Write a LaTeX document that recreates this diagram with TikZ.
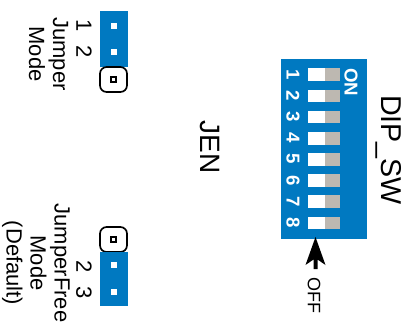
\documentclass[tikz,border=0pt]{standalone}
\usepackage{fontspec}
\setmainfont{Liberation Sans}
\definecolor{dipblue}{HTML}{0079C1}
\definecolor{dipgrey}{HTML}{BDB8B1}
\tikzset{
  board/.style={fill=dipblue,draw=none},
  leveron/.style={fill=white,draw=none},
  leveroff/.style={fill=dipgrey,draw=none},
  pinhole/.style={fill=white,draw=none},
  pinbox/.style={draw=black,line width=1.25pt,rounded corners=5pt,fill=white},
  pinmark/.style={draw=black,line width=1.4pt,fill=white},
  swnum/.style={rotate=-90,inner sep=0.75pt,text=white,font=\bfseries\fontsize{14}{16}\selectfont},
  bigtext/.style={rotate=-90,inner sep=0.75pt,align=center,font=\fontsize{16.5}{18}\selectfont},
  pinnum/.style={rotate=-90,inner sep=0.75pt,font=\fontsize{16.5}{18}\selectfont}
}
\begin{document}
\begin{tikzpicture}[x=0.75pt,y=0.75pt,yscale=-1,xscale=1]
\useasboundingbox (0,0) rectangle (415,326);

%Shape: DIP switch body
\fill [board] (280.5,58.5) rectangle (366.5,239);
%Switch 1
\fill [leveron] (308,68) rectangle (325,81);
\fill [leveroff] (325,68) rectangle (340,81);
%Switch 2
\fill [leveron] (308,89.5) rectangle (325,102);
\fill [leveroff] (325,89.5) rectangle (340,102);
%Switch 3
\fill [leveron] (308,110.5) rectangle (325,123);
\fill [leveroff] (325,110.5) rectangle (340,123);
%Switch 4
\fill [leveron] (308,131.5) rectangle (325,144.5);
\fill [leveroff] (325,131.5) rectangle (340,144.5);
%Switch 5
\fill [leveron] (308,153) rectangle (325,165.5);
\fill [leveroff] (325,153) rectangle (340,165.5);
%Switch 6
\fill [leveron] (308,174) rectangle (325,186.5);
\fill [leveroff] (325,174) rectangle (340,186.5);
%Switch 7
\fill [leveron] (308,195) rectangle (325,207.5);
\fill [leveroff] (325,195) rectangle (340,207.5);
%Switch 8
\fill [leveron] (308,216.5) rectangle (325,229);
\fill [leveroff] (325,216.5) rectangle (340,229);

%Shape: OFF arrow
\fill [black] (315.5,237) -- (325.5,265) -- (317.5,259.5) -- (317.5,269) -- (313.5,269) -- (313.5,259.5) -- (305.5,265) -- cycle;

%Shape: Jumper top
\fill [board] (99.5,11) rectangle (128,66.5);
\fill [pinhole] (111,23) rectangle (117,29);
\fill [pinhole] (111,49) rectangle (117,55);
\draw [pinbox] (100,67) rectangle (127,92);
\draw [pinmark] (111,77) rectangle (115.7,81.7);

%Shape: Jumper bottom
\draw [pinbox] (100,227) rectangle (127,252);
\draw [pinmark] (111,237) rectangle (115.7,241.7);
\fill [board] (99.5,252) rectangle (128,306);
\fill [pinhole] (111,262) rectangle (117,268);
\fill [pinhole] (111,289) rectangle (117,295);

% Text Node
\node (swone) [swnum] at (293,74.5) {1};
\node (swtwo) [swnum] at (293,95.5) {2};
\node (swthree) [swnum] at (293,116.5) {3};
\node (swfour) [swnum] at (293,138) {4};
\node (swfive) [swnum] at (293,159) {5};
\node (swsix) [swnum] at (293,180.5) {6};
\node (swseven) [swnum] at (293,201.5) {7};
\node (sweight) [swnum] at (293,222.5) {8};
% Text Node
\node (onlabel) [swnum] at (351,82) {ON};
% Text Node
\node (offlabel) [rotate=-90,inner sep=0.75pt,font=\fontsize{13.5}{15}\selectfont] at (314,295) {OFF};
% Text Node
\node (diplabel) [rotate=-90,inner sep=0.75pt,font=\fontsize{21.5}{24}\selectfont] at (389,150) {DIP\_SW};
% Text Node
\node (jenlabel) [rotate=-90,inner sep=0.75pt,font=\fontsize{21}{24}\selectfont] at (209.5,147) {JEN};
% Text Node
\node (pinone) [pinnum] at (84,26) {1};
\node (pintwo) [pinnum] at (84,52) {2};
\node (pintwob) [pinnum] at (84,267) {2};
\node (pinthree) [pinnum] at (84,293) {3};
% Text Node
\node (jumpermode) [bigtext] at (48.5,54) {Jumper\\Mode};
% Text Node
\node (freemode) [bigtext] at (36,263) {JumperFree\\Mode\\(Default)};
\end{tikzpicture}
\end{document}
